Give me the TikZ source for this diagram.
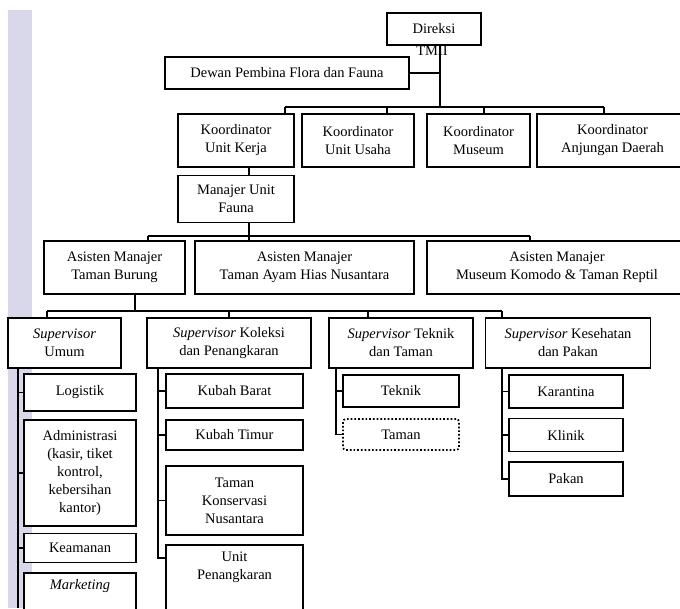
\documentclass[tikz,border=0pt]{standalone}
\usepackage{fontspec}
\setmainfont{Liberation Serif}
\usepackage{tikz}
\usetikzlibrary{calc}
\definecolor{stripgray}{RGB}{216,216,234}

\begin{document}
\begin{tikzpicture}
  [x=1pt,y=-1pt,
   every node/.style={draw,fill=white,line width=1.7pt,align=center,inner sep=2pt,
     font=\fontsize{14.5}{18}\selectfont},
   link/.style={line width=1.7pt}]
  \useasboundingbox (0,0) rectangle (680,608);
  \clip (0,0) rectangle (680,608);
  \fill[stripgray] (8,10) rectangle (32,608);

  % top
  \node[minimum width=94pt,minimum height=32pt] (direksi) at (434,29) {Direksi};
  \node[draw=none,fill=none] (tmii) at (432,51) {TMII};
  \node[minimum width=244pt,minimum height=32pt] (dewan) at (287,73) {Dewan Pembina Flora dan Fauna};

  % koordinator
  \node[minimum width=116pt,minimum height=53pt] (k1) at (236,140.5) {Koordinator\\Unit Kerja};
  \node[minimum width=112pt,minimum height=53pt] (k2) at (358,140.5) {Koordinator\\Unit Usaha};
  \node[minimum width=103pt,minimum height=53pt] (k3) at (478.5,140.5) {Koordinator\\Museum};
  \node[minimum width=151pt,minimum height=53pt] (k4) at (612.5,140.5) {Koordinator\\Anjungan Daerah};

  \node[minimum width=116pt,minimum height=47pt] (manajer) at (236,199) {Manajer Unit\\Fauna};

  % asisten manajer
  \node[minimum width=141pt,minimum height=53pt] (a1) at (114.5,267.5) {Asisten Manajer\\Taman Burung};
  \node[minimum width=219pt,minimum height=53pt] (a2) at (304.5,267.5) {Asisten Manajer\\Taman Ayam Hias Nusantara};
  \node[minimum width=260pt,minimum height=53pt] (a3) at (557,267.5) {Asisten Manajer\\Museum Komodo \& Taman Reptil};

  % supervisor
  \node[minimum width=113pt,minimum height=50pt] (s1) at (64.5,343) {\textit{Supervisor}\\Umum};
  \node[minimum width=164pt,minimum height=50pt] (s2) at (229,343) {\textit{Supervisor} Koleksi\\dan Penangkaran};
  \node[minimum width=144pt,minimum height=50pt] (s3) at (401,343) {\textit{Supervisor} Teknik\\dan Taman};
  \node[minimum width=165pt,minimum height=50pt] (s4) at (568,343) {\textit{Supervisor} Kesehatan\\dan Pakan};

  % umum
  \node[minimum width=112pt,minimum height=37pt] (logistik) at (80,392.5) {Logistik};
  \node[minimum width=112pt,minimum height=106pt] (admin) at (80,473) {Administrasi\\(kasir, tiket\\kontrol,\\kebersihan\\kantor)};
  \node[minimum width=112pt,minimum height=29pt] (keamanan) at (80,548) {Keamanan};
  \node[minimum width=112pt,anchor=north,inner ysep=7pt,text depth=50pt] (marketing) at (80,572) {\textit{Marketing}};

  % koleksi
  \node[minimum width=137pt,minimum height=34pt] (kbarat) at (234.5,391) {Kubah Barat};
  \node[minimum width=137pt,minimum height=30pt] (ktimur) at (234.5,435) {Kubah Timur};
  \node[minimum width=137pt,minimum height=69pt] (konservasi) at (234.5,500.5) {Taman\\Konservasi\\Nusantara};
  \node[minimum width=137pt,anchor=north,inner ysep=7pt,text depth=50pt] (unit) at (234.5,544) {Unit\\Penangkaran};

  % teknik
  \node[minimum width=116pt,minimum height=32pt] (teknik) at (401,391) {Teknik};
  \node[minimum width=116pt,minimum height=31pt,dotted,rounded corners=3pt] (taman) at (401,434.5) {Taman};

  % kesehatan
  \node[minimum width=114pt,minimum height=33pt] (karantina) at (566,391.5) {Karantina};
  \node[minimum width=114pt,minimum height=33pt] (klinik) at (566,435) {Klinik};
  \node[minimum width=114pt,minimum height=34pt] (pakan) at (566,479) {Pakan};

  % lines
  \coordinate (top) at (440,107);
  \coordinate (kj1) at (285,107);
  \coordinate (kj2) at (387,107);
  \coordinate (kj3) at (484,107);
  \coordinate (kj4) at (604,107);
  \draw[link] (direksi.south -| top) -- (top);
  \draw[link] (dewan.east) -- (dewan.east -| top);
  \draw[link] (kj1) -- (kj4);
  \foreach \j/\k in {kj1/k1,kj2/k2,kj3/k3,kj4/k4}
    \draw[link] (\j) -- (\j |- \k.north);

  \coordinate (aj1) at (148,236);
  \coordinate (aj2) at (249,236);
  \coordinate (aj3) at (530,236);
  \draw[link] (k1.south -| aj2) -- (manajer.north -| aj2);
  \draw[link] (manajer.south -| aj2) -- (aj2);
  \draw[link] (aj1) -- (aj3);
  \foreach \j/\k in {aj1/a1,aj2/a2,aj3/a3}
    \draw[link] (\j) -- (\j |- \k.north);

  \coordinate (sj0) at (135,311);
  \coordinate (sj1) at (47,311);
  \coordinate (sj2) at (229,311);
  \coordinate (sj3) at (368,311);
  \coordinate (sj4) at (502,311);
  \draw[link] (a1.south -| sj0) -- (sj0);
  \draw[link] (sj1) -- (sj4);
  \foreach \j/\k in {sj1/s1,sj2/s2,sj3/s3,sj4/s4}
    \draw[link] (\j) -- (\j |- \k.north);

  \coordinate (t1) at (18,608);
  \draw[link] (s1.south -| t1) -- (t1);
  \foreach \n in {logistik,admin,keamanan}
    \draw[link] (\n.west) -- (\n.west -| t1);

  \coordinate (t2) at (158,558);
  \draw[link] (s2.south -| t2) -- (t2) -- (t2 -| unit.west);
  \foreach \n in {kbarat,ktimur,konservasi}
    \draw[link] (\n.west) -- (\n.west -| t2);

  \coordinate (t3) at (336,0);
  \draw[link] (s3.south -| t3) -- (taman.west -| t3) -- (taman.west);
  \draw[link] (teknik.west) -- (teknik.west -| t3);

  \coordinate (t4) at (502,0);
  \draw[link] (s4.south -| t4) -- (pakan.west -| t4) -- (pakan.west);
  \foreach \n in {karantina,klinik}
    \draw[link] (\n.west) -- (\n.west -| t4);
\end{tikzpicture}
\end{document}
